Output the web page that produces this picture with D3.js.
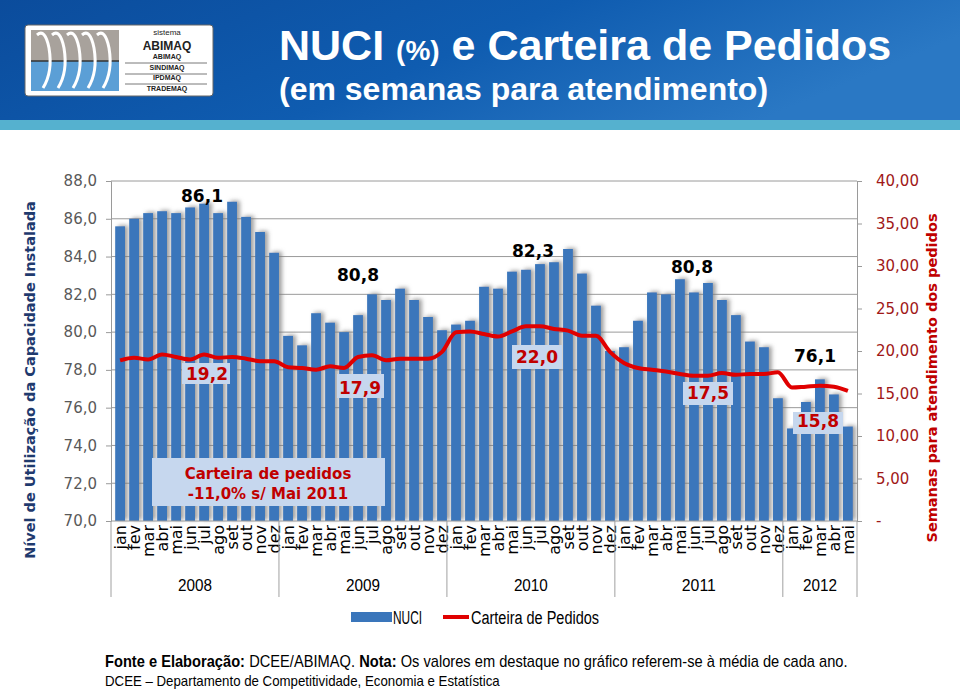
<!DOCTYPE html>
<html><head><meta charset="utf-8">
<script src="https://cdn.jsdelivr.net/npm/d3@7"></script>
<style>
html,body{margin:0;padding:0;background:#fff;}
svg{display:block;}
</style></head>
<body>
<svg id="c" width="960" height="691"></svg>
<script>
const monthNames = ["jan","fev","mar","abr","mai","jun","jul","ago","set","out","nov","dez"];
const years = ["2008","2009","2010","2011","2012"];
const monthsPerYear = [12,12,12,12,5];
const nuci = [
  85.6,86.0,86.3,86.4,86.3,86.6,86.8,86.3,86.9,86.1,85.3,84.2,
  79.8,79.3,81.0,80.5,80.0,80.9,82.0,81.7,82.3,81.7,80.8,80.1,
  80.4,80.6,82.4,82.3,83.2,83.3,83.6,83.7,84.4,83.1,81.4,79.0,
  79.2,80.6,82.1,82.0,82.8,82.1,82.6,81.7,80.9,79.5,79.2,76.5,
  74.9,76.3,77.5,76.7,75.0
];
const carteira = [
  18.9,19.2,19.0,19.6,19.3,19.0,19.6,19.2,19.3,19.1,18.8,18.8,
  18.1,18.0,17.8,18.2,18.0,19.3,19.5,18.9,19.1,19.1,19.1,19.9,
  22.2,22.3,22.0,21.7,22.3,22.9,22.9,22.6,22.4,21.8,21.8,19.9,
  18.6,18.0,17.8,17.6,17.3,17.1,17.1,17.4,17.2,17.3,17.3,17.5,
  15.7,15.8,15.9,15.8,15.3
];
const leftTicks = [70,72,74,76,78,80,82,84,86,88];
const rightTicks = [0,5,10,15,20,25,30,35,40];
const nuciAvgLabels = ["86,1","80,8","82,3","80,8","76,1"];
const cartAvgLabels = ["19,2","17,9","22,0","17,5","15,8"];

const cats = [];
years.forEach((y,yi)=>{ for(let m=0;m<monthsPerYear[yi];m++) cats.push({key:y+"-"+m, month:monthNames[m], year:y, yi:yi}); });
cats.forEach((c,i)=>{ c.nuci = nuci[i]; c.cart = carteira[i]; });

const svg = d3.select("#c");
const defs = svg.append("defs");

// header
const hg = defs.append("linearGradient").attr("id","hdr").attr("x1","0").attr("x2","1").attr("y1","0").attr("y2","0.3");
hg.append("stop").attr("offset","0").attr("stop-color","#0b4c9c");
hg.append("stop").attr("offset","0.55").attr("stop-color","#0f5cb0");
hg.append("stop").attr("offset","1").attr("stop-color","#2a78c4");
svg.append("rect").attr("x",0).attr("y",0).attr("width",960).attr("height",121).attr("fill","url(#hdr)");
svg.append("rect").attr("x",0).attr("y",120).attr("width",960).attr("height",10).attr("fill","#55b1cf");

// logo
const logo = svg.append("g");
logo.append("rect").attr("x",25).attr("y",25).attr("width",188).attr("height",71).attr("rx",3).attr("fill","#fff").attr("stroke","#666").attr("stroke-width",1);
logo.append("rect").attr("x",31).attr("y",30).attr("width",88).attr("height",31).attr("fill","#a8a29c");
logo.append("rect").attr("x",31).attr("y",61).attr("width",88).attr("height",30).attr("fill","#5b9fd6");
logo.append("line").attr("x1",31).attr("x2",119).attr("y1",61).attr("y2",61).attr("stroke","#333").attr("stroke-width",1.5);
[45,60,75,90,105].forEach((cx,i)=>{
  logo.append("path").attr("d",`M${cx-8},35 Q${cx},28 ${cx+4},48 Q${cx+8},72 ${cx-2},88`).attr("fill","none").attr("stroke","#fff").attr("stroke-width",3);
});
const lt = [["sistema",35,8,"normal"],["ABIMAQ",50,12,"bold"],["ABIMAQ",59,7,"bold"],["SINDIMAQ",70,7,"bold"],["IPDMAQ",80,7,"bold"],["TRADEMAQ",91,7,"bold"]];
lt.forEach(t=>logo.append("text").attr("x",167).attr("y",t[1]).attr("text-anchor","middle").attr("font-family","Liberation Sans, Arial, sans-serif").attr("font-size",t[2]).attr("font-weight",t[3]).attr("fill","#222").text(t[0]));
[63,74,84].forEach(y=>logo.append("line").attr("x1",125).attr("x2",207).attr("y1",y).attr("y2",y).attr("stroke","#555").attr("stroke-width",0.8));

// title
const tf = "Liberation Sans, Arial, sans-serif";
const title = svg.append("text").attr("x",279).attr("y",60).attr("font-family",tf).attr("font-weight","bold").attr("fill","#fff").attr("font-size",43);
title.append("tspan").text("NUCI ");
title.append("tspan").attr("font-size",28).text("(%)");
title.append("tspan").text(" e Carteira de Pedidos");
svg.append("text").attr("x",279).attr("y",100).attr("font-family",tf).attr("font-weight","bold").attr("fill","#fff").attr("font-size",32).text("(em semanas para atendimento)");

// scales
const L=111, R=857, T=181, B=521;
const x = d3.scaleBand().domain(cats.map(c=>c.key)).range([L,R]).padding(0.3);
const yL = d3.scaleLinear().domain([70,88]).range([B,T]);
const yR = d3.scaleLinear().domain([0,40]).range([B,T]);

// grid
svg.append("g").selectAll("line").data(leftTicks.slice(1)).join("line")
  .attr("x1",L).attr("x2",R).attr("y1",d=>yL(d)).attr("y2",d=>yL(d)).attr("stroke","#9a9a9a").attr("stroke-width",1);

// axes
const fAx = "DejaVu Sans, Verdana, sans-serif";
const axL = svg.append("g").attr("transform",`translate(${L},0)`).call(d3.axisLeft(yL).tickValues(leftTicks).tickSize(5).tickPadding(9).tickFormat(d=>d3.format(".1f")(d).replace(".",",")));
axL.select(".domain").attr("stroke","#9a9a9a");
axL.selectAll(".tick line").attr("stroke","#9a9a9a");
axL.selectAll("text").attr("font-family",fAx).attr("font-size",15).attr("fill","#595959");

const axR = svg.append("g").attr("transform",`translate(${R},0)`).call(d3.axisRight(yR).tickValues(rightTicks).tickSize(5).tickPadding(14).tickFormat(d=>d===0?"-":d3.format(".2f")(d).replace(".",",")));
axR.select(".domain").attr("stroke","#9a9a9a");
axR.selectAll(".tick line").attr("stroke","#9a9a9a");
axR.selectAll("text").attr("font-family",fAx).attr("font-size",15).attr("fill","#a01818");

svg.append("text").attr("transform","translate(35,380) rotate(-90)").attr("text-anchor","middle").attr("font-family",fAx).attr("font-weight","bold").attr("font-size",14.5).attr("fill","#1f3a6e").text("Nível de Utilização da Capacidade Instalada");
svg.append("text").attr("transform","translate(937,378) rotate(-90)").attr("text-anchor","middle").attr("font-family",fAx).attr("font-weight","bold").attr("font-size",14.5).attr("fill","#c00000").text("Semanas para atendimento dos pedidos");

// bars with shadow
const f = defs.append("filter").attr("id","sh").attr("x","-50%").attr("y","-20%").attr("width","200%").attr("height","140%");
f.append("feDropShadow").attr("dx",3).attr("dy",-1).attr("stdDeviation",2).attr("flood-color","#777").attr("flood-opacity",0.7);
svg.append("g").attr("filter","url(#sh)").selectAll("rect").data(cats).join("rect")
  .attr("x",d=>x(d.key)).attr("width",x.bandwidth()).attr("y",d=>yL(d.nuci)).attr("height",d=>B-yL(d.nuci))
  .attr("fill","#3a76bb");

// line
const line = d3.line().x(d=>x(d.key)+x.bandwidth()/2).y(d=>yR(d.cart)).curve(d3.curveMonotoneX);
svg.append("path").datum(cats).attr("d",line).attr("fill","none").attr("stroke","#e00000").attr("stroke-width",4).attr("stroke-linejoin","round");

svg.append("line").attr("x1",L).attr("x2",R).attr("y1",B).attr("y2",B).attr("stroke","#9a9a9a");

// month labels
svg.append("g").selectAll("text").data(cats).join("text")
  .attr("transform",d=>`translate(${x(d.key)+x.bandwidth()/2+6},525) rotate(-90)`)
  .attr("text-anchor","end").attr("font-family",fAx).attr("font-size",16).attr("fill","#000").text(d=>d.month);

// year separators & labels
const yearStart = []; let acc=0;
monthsPerYear.forEach((n,i)=>{ yearStart.push(acc); acc+=n; });
const step = x.step();
const sepXs = yearStart.map(s=>L + s*step).concat([R]);
svg.append("g").selectAll("line").data(sepXs).join("line")
  .attr("x1",d=>d).attr("x2",d=>d).attr("y1",B).attr("y2",597).attr("stroke","#a0a0a0");
const nf = "Liberation Sans, Arial, sans-serif";
svg.append("g").selectAll("text").data(years).join("text")
  .attr("x",(d,i)=>(sepXs[i]+sepXs[i+1])/2 - 17).attr("y",591)
  .attr("textLength",34).attr("lengthAdjust","spacingAndGlyphs")
  .attr("font-family",nf).attr("font-size",17).attr("fill","#000").text(d=>d);

// NUCI average labels
const nuciPos = [[202,202],[358,281],[533,257],[692,273],[815,362]];
svg.append("g").selectAll("text").data(nuciAvgLabels).join("text")
  .attr("x",(d,i)=>nuciPos[i][0]).attr("y",(d,i)=>nuciPos[i][1]).attr("text-anchor","middle")
  .attr("font-family",fAx).attr("font-weight","bold").attr("font-size",17).attr("fill","#000").text(d=>d);

// carteira labels
const cartBox = [[182,363,48,21],[337,374,47,24],[512,345,50,24],[683,382,50,23],[793,412,50,22]];
const cartTxt = [[207,380],[360,394],[537,363],[708,399],[818,427]];
const cg = svg.append("g");
cg.selectAll("rect").data(cartBox).join("rect").attr("x",d=>d[0]).attr("y",d=>d[1]).attr("width",d=>d[2]).attr("height",d=>d[3]).attr("fill","#c6d7ee");
cg.selectAll("text").data(cartAvgLabels).join("text").attr("x",(d,i)=>cartTxt[i][0]).attr("y",(d,i)=>cartTxt[i][1]).attr("text-anchor","middle")
  .attr("font-family",fAx).attr("font-weight","bold").attr("font-size",17).attr("fill","#c00000").text(d=>d);

// annotation box
svg.append("rect").attr("x",152).attr("y",458).attr("width",233).attr("height",48).attr("fill","#c6d7ee");
svg.append("text").attr("x",268).attr("y",479).attr("text-anchor","middle").attr("font-family",fAx).attr("font-weight","bold").attr("font-size",15).attr("fill","#c00000").text("Carteira de pedidos");
svg.append("text").attr("x",268).attr("y",499).attr("text-anchor","middle").attr("font-family",fAx).attr("font-weight","bold").attr("font-size",15).attr("fill","#c00000").text("-11,0% s/ Mai 2011");

// legend
const lg = svg.append("g");
lg.append("rect").attr("x",351).attr("y",612).attr("width",41).attr("height",10).attr("fill","#3a76bb");
lg.append("text").attr("x",393).attr("y",624).attr("textLength",29).attr("lengthAdjust","spacingAndGlyphs").attr("font-family",nf).attr("font-size",18).attr("fill","#000").text("NUCI");
lg.append("line").attr("x1",443).attr("x2",469).attr("y1",617).attr("y2",617).attr("stroke","#e00000").attr("stroke-width",4);
lg.append("text").attr("x",471).attr("y",624).attr("textLength",128).attr("lengthAdjust","spacingAndGlyphs").attr("font-family",nf).attr("font-size",18).attr("fill","#000").text("Carteira de Pedidos");

// footer: condensed via horizontal scale of a group
function condensedLine(parts, x0, y0, fs, targetW){
  const g = svg.append("g");
  const inner = g.append("g");
  let cx = 0;
  const sp = fs*0.28;
  parts.forEach((p,i)=>{
    const t = inner.append("text").attr("x",cx).attr("y",0).attr("font-family",nf).attr("font-size",fs).attr("font-weight",p[1]).attr("fill","#000").text(p[0]);
    cx += t.node().getComputedTextLength() + (i<parts.length-1 ? sp : 0);
  });
  const s = targetW/cx;
  g.attr("transform",`translate(${x0},${y0}) scale(${s},1)`);
}
condensedLine([["Fonte e Elaboração:","bold"],["DCEE/ABIMAQ.","normal"],["Nota:","bold"],["Os valores em destaque no gráfico referem-se à média de cada ano.","normal"]],105,667,16,743);
condensedLine([["DCEE – Departamento de Competitividade, Economia e Estatística","normal"]],105,686,14,395);
</script>
</body></html>
